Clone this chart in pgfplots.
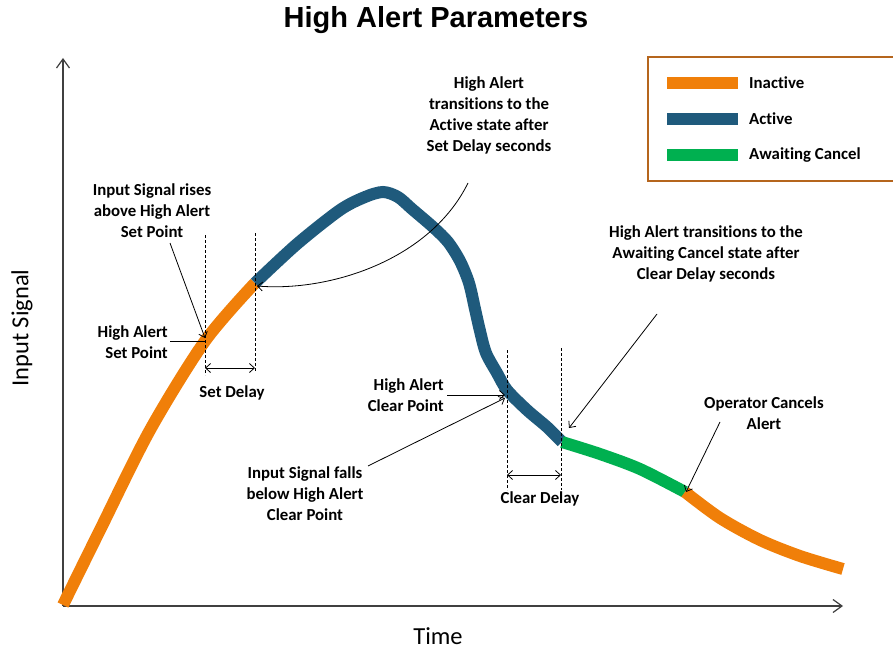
\documentclass[border=0pt]{standalone}
\usepackage{pgfplots}
\pgfplotsset{compat=1.18}
\usetikzlibrary{arrows.meta}
\usepackage{fontspec}
\setmainfont{Carlito}[Ligatures=NoCommon]
\newfontfamily\titlefont{Liberation Sans}
\definecolor{inact}{HTML}{F07F09}
\definecolor{act}{HTML}{1F5A7C}
\definecolor{await}{HTML}{00B050}
\definecolor{legbrown}{HTML}{B5651D}
\definecolor{axgray}{HTML}{404040}

\tikzset{
  ann/.style={font=\fontsize{16.8}{21}\selectfont\bfseries, align=center, inner sep=0pt},
  barb/.style={-{Straight Barb[length=5pt,width=9pt]}, line width=0.8pt},
  dbarb/.style={{Straight Barb[length=5pt,width=9pt]}-{Straight Barb[length=5pt,width=9pt]}, line width=0.8pt},
  vdash/.style={dash pattern=on 3pt off 2pt, line width=0.8pt},
}

\begin{document}
\begin{tikzpicture}
\begin{axis}[
  scale only axis, width=780pt, height=548pt,
  xmin=63, xmax=843, ymin=43, ymax=591,
  axis lines=left,
  axis line style={draw=axgray, line width=1.2pt, -{Straight Barb[length=9pt,width=13pt]}},
  ticks=none, clip=false,
]
% signal, split by alert state
\addplot[inact, line width=12pt, smooth] coordinates {
(63,44) (100,119) (150,219) (205,308) (255,366)
};
\addplot[act, line width=12pt, smooth] coordinates {
(255,366) (297,405) (340,439) (365,452) (383,457) (398,452) (412,440) (433,422)
(448,407) (460,388) (469,366) (475,340) (480,318) (486,296) (497,276) (507,259)
(527,239) (547,222) (562,207)
};
\addplot[await, line width=12pt, smooth] coordinates {
(562,207) (600,195) (640,180) (685,157)
};
\addplot[inact, line width=12pt, smooth] coordinates {
(685,157) (720,131) (760,109) (800,93) (843,80)
};

% delays
\draw[vdash] (axis cs:205,414) -- (axis cs:205,274);
\draw[vdash] (axis cs:255,416) -- (axis cs:255,277);
\draw[dbarb] (axis cs:205,281) -- (axis cs:255,281);
\node[ann] at (axis cs:232,256) {Set Delay};
\draw[vdash] (axis cs:507,299) -- (axis cs:507,159);
\draw[vdash] (axis cs:561,301) -- (axis cs:561,159);
\draw[dbarb] (axis cs:507,174) -- (axis cs:561,174);
\node[ann] at (axis cs:540,150) {Clear Delay};

% annotations
\node[ann] at (axis cs:152,438) {Input Signal rises\\above High Alert\\Set Point};
\draw[barb] (axis cs:170,406) -- (axis cs:205,311);
\node[ann, anchor=east, align=right] at (axis cs:168,307) {High Alert\\Set Point};
\draw[line width=0.8pt] (axis cs:170,308) -- (axis cs:205,308);

\node[ann] at (axis cs:489,534) {High Alert\\transitions to the\\Active state after\\Set Delay seconds};
\draw[barb] (axis cs:468,466) .. controls (axis cs:430,389) and (axis cs:330,357) .. (axis cs:257,363);

\node[ann, anchor=east, align=right] at (axis cs:444,254) {High Alert\\Clear Point};
\draw[barb] (axis cs:447,254) -- (axis cs:505,254);
\node[ann] at (axis cs:305,155) {Input Signal falls\\below High Alert\\Clear Point};
\draw[barb] (axis cs:368,183) -- (axis cs:505,251);

\node[ann] at (axis cs:706,395) {High Alert transitions to the\\Awaiting Cancel state after\\Clear Delay seconds};
\draw[barb] (axis cs:657,335) -- (axis cs:569,221);

\node[ann] at (axis cs:764,236) {Operator Cancels\\Alert};
\draw[barb] (axis cs:720,227) -- (axis cs:686,157);

% legend
\draw[legbrown, line width=2pt] (axis cs:648,592) rectangle (axis cs:905,468);
\draw[inact, line width=12pt] (axis cs:667,566) -- (axis cs:738,566);
\draw[act, line width=12pt] (axis cs:667,530) -- (axis cs:738,530);
\draw[await, line width=12pt] (axis cs:667,494) -- (axis cs:738,494);
\node[ann, anchor=west] at (axis cs:749,566) {Inactive};
\node[ann, anchor=west] at (axis cs:749,530) {Active};
\node[ann, anchor=west] at (axis cs:749,494) {Awaiting Cancel};

% titles
\node[font=\titlefont\fontsize{29}{33}\selectfont\bfseries] at (axis cs:436,629) {High Alert Parameters};
\node[font=\fontsize{24.5}{28}\selectfont, anchor=base, inner sep=0pt] at (axis cs:438,5) {Time};
\node[font=\fontsize{24.5}{28}\selectfont, rotate=90] at (axis cs:22,321) {Input Signal};

\coordinate (bl) at (axis cs:0,0);
\coordinate (tr) at (axis cs:893,649);
\end{axis}
\pgfresetboundingbox
\path[use as bounding box] (bl) rectangle (tr);
\end{tikzpicture}
\end{document}
